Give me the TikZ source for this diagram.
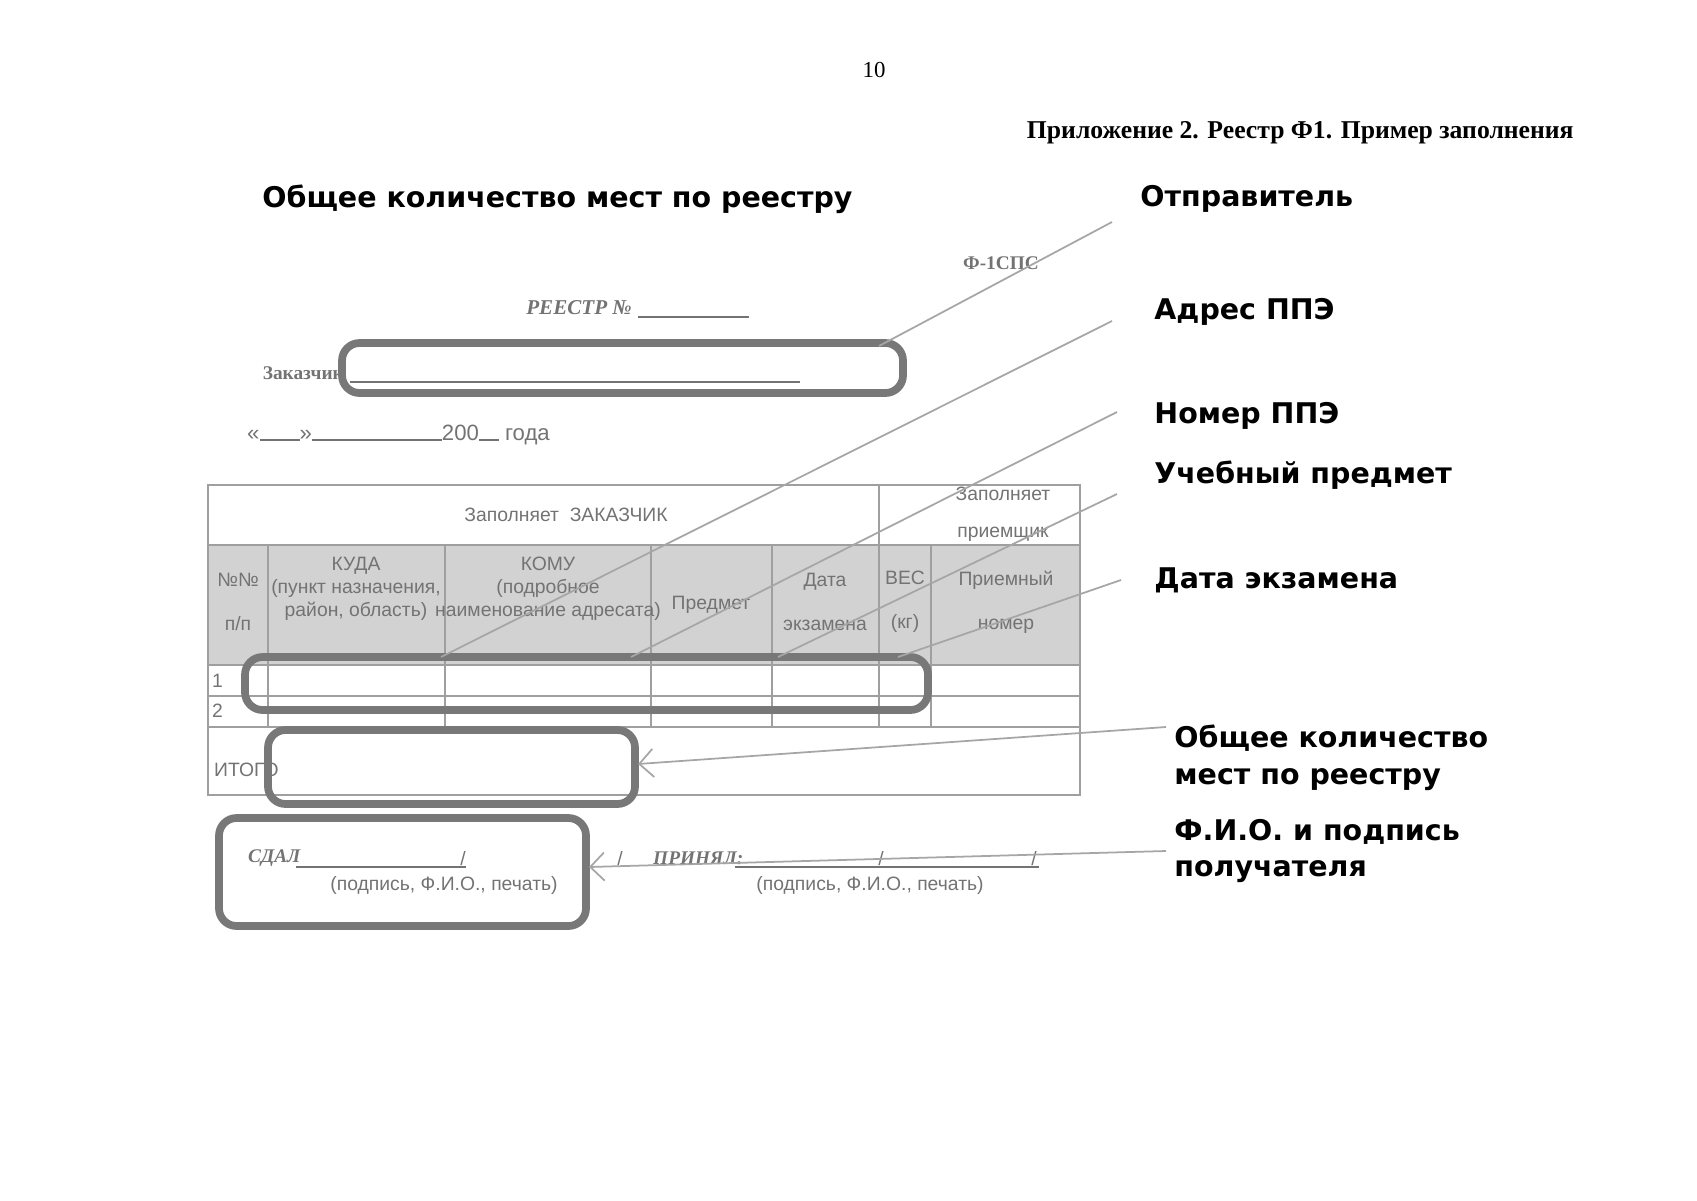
\documentclass[tikz,border=0pt]{standalone}
\usepackage{fontspec}
\setmainfont{Liberation Serif}
\newfontfamily\labelfont{DejaVu Sans}
\newfontfamily\formfont{Liberation Sans}
\usetikzlibrary{calc,arrows.meta,positioning}
\definecolor{formgrey}{gray}{0.45}
\definecolor{boxgrey}{gray}{0.47}

\begin{document}
\begin{tikzpicture}[x=0.01cm,y=-0.01cm,font=\formfont\fontsize{5.5}{6.5}\selectfont]

\tikzset{bigLabel/.style={anchor=west,align=left,font=\labelfont\bfseries\fontsize{8.1}{10.5}\selectfont},
formText/.style={text=formgrey,inner sep=1pt},
hiBox/.style={draw=boxgrey,line width=2.2pt,rounded corners=5pt},
leader/.style={draw=gray!70,line width=0.5pt},
grid/.style={draw=gray!75,line width=0.7pt}}

\useasboundingbox (0,0) rectangle (1697,1200);

% Page header
\node (page) at (874,70) {\rmfamily\fontsize{6.5}{8}\selectfont 10};
\node[anchor=east] (title) at (1586,133) {\rmfamily\bfseries\fontsize{7.3}{9}\selectfont Приложение 2. Реестр Ф1. Пример заполнения};

% Callout labels
\node[bigLabel] (lTotalTop) at (250,199) {Общее количество мест по реестру};
\node[bigLabel] (lSender) at (1128,199) {Отправитель};
\node[bigLabel] (lAddr) at (1142,312) {Адрес ППЭ};
\node[bigLabel] (lNum) at (1142,416) {Номер ППЭ};
\node[bigLabel] (lSubj) at (1142,475) {Учебный предмет};
\node[bigLabel] (lDate) at (1142,580) {Дата экзамена};
\node[bigLabel] (lTotal) at (1162,758) {Общее количество\\мест по реестру};
\node[bigLabel] (lSign) at (1162,851) {Ф.И.О. и подпись\\получателя};

% Form head
\node[formText] (form) at (1001,263) {\rmfamily\bfseries Ф-1СПС};
\node[formText,anchor=east] (reg) at (636,308) {\rmfamily\bfseries\itshape\fontsize{6}{7}\selectfont РЕЕСТР №};
\draw[formgrey,line width=0.7pt] (638,317) -- (749,317);
\node[formText,anchor=east] (cust) at (348,373) {\rmfamily\bfseries Заказчик};
\draw[formgrey,line width=0.8pt] (350,382) -- (800,382);
\node[formText,anchor=west] (date) at (243,435) {\fontsize{6.3}{8}\selectfont «\rule{0.4cm}{0.4pt}»\rule{1.3cm}{0.4pt}200\rule{0.2cm}{0.4pt} года};

% Table
\fill[gray!35] (208,545) rectangle (1080,665);
\draw[grid] (208,485) rectangle (1080,795);
\foreach \y in {545,665,696,727} \draw[grid] (208,\y) -- (1080,\y);
\foreach \x in {268,445,651,772,931} \draw[grid] (\x,545) -- (\x,727);
\draw[grid] (879,485) -- (879,727);
\node[formText] (hCust) at (566,515) {Заполняет \ ЗАКАЗЧИК};
\node[formText,align=center] (hRecv) at (1003,514) {Заполняет\\[4pt]приемщик};
\node[formText,align=center] (c1) at (238,602) {№№\\[6pt]п/п};
\node[formText,align=center] (c2) at (356,589) {КУДА\\(пункт назначения,\\район, область)};
\node[formText,align=center] (c3) at (548,589) {КОМУ\\(подробное\\наименование адресата)};
\node[formText] (c4) at (711,605) {Предмет};
\node[formText,align=center] (c5) at (825,602) {Дата\\[6pt]экзамена};
\node[formText,align=center] (c6) at (905,602) {ВЕС\\[6pt](кг)};
\node[formText,align=center] (c7) at (1006,602) {Приемный\\[6pt]номер};
\node[formText,anchor=west] (r1) at (208,681) {1};
\node[formText,anchor=west] (r2) at (208,711) {2};
\node[formText,anchor=west] (total) at (210,770) {ИТОГО};

% Signatures
\node[formText,anchor=west] (gave) at (244,858) {\rmfamily\bfseries\itshape СДАЛ};
\draw[formgrey,line width=0.6pt] (296,867) -- (466,867);
\node[formText] at (463,859) {/};
\node[formText] (sig1) at (444,885) {(подпись, Ф.И.О., печать)};
\node[formText] at (620,859) {/};
\node[formText,anchor=west] (took) at (649,858) {\rmfamily\bfseries\itshape ПРИНЯЛ:};
\draw[formgrey,line width=0.6pt] (735,867) -- (1039,867);
\node[formText] at (881,859) {/};
\node[formText] at (1034,859) {/};
\node[formText] (sig2) at (870,885) {(подпись, Ф.И.О., печать)};

% Highlight boxes
\draw[hiBox] (342,343) rectangle (903,393);
\draw[hiBox] (245,657) rectangle (928,710);
\draw[hiBox] (268,730) rectangle (635,804);
\draw[hiBox] (219,818) rectangle (586,926);

% Leader lines
\coordinate (eSender) at (879,346);
\coordinate (eAddr) at (441,657);
\coordinate (eNum) at (631,657);
\coordinate (eSubj) at (778,657);
\coordinate (eDate) at (898,657);
\coordinate (eTotal) at (638,764);
\coordinate (eSign) at (589,867);
\draw[leader] (1112,222) -- (eSender);
\draw[leader] (1112,321) -- (eAddr);
\draw[leader] (1117,412) -- (eNum);
\draw[leader] (1117,494) -- (eSubj);
\draw[leader] (1121,580) -- (eDate);
\draw[leader,-{Straight Barb[length=4pt]}] (1166,727) -- (eTotal);
\draw[leader,-{Straight Barb[length=4pt]}] (1166,851) -- (eSign);

\end{tikzpicture}
\end{document}
